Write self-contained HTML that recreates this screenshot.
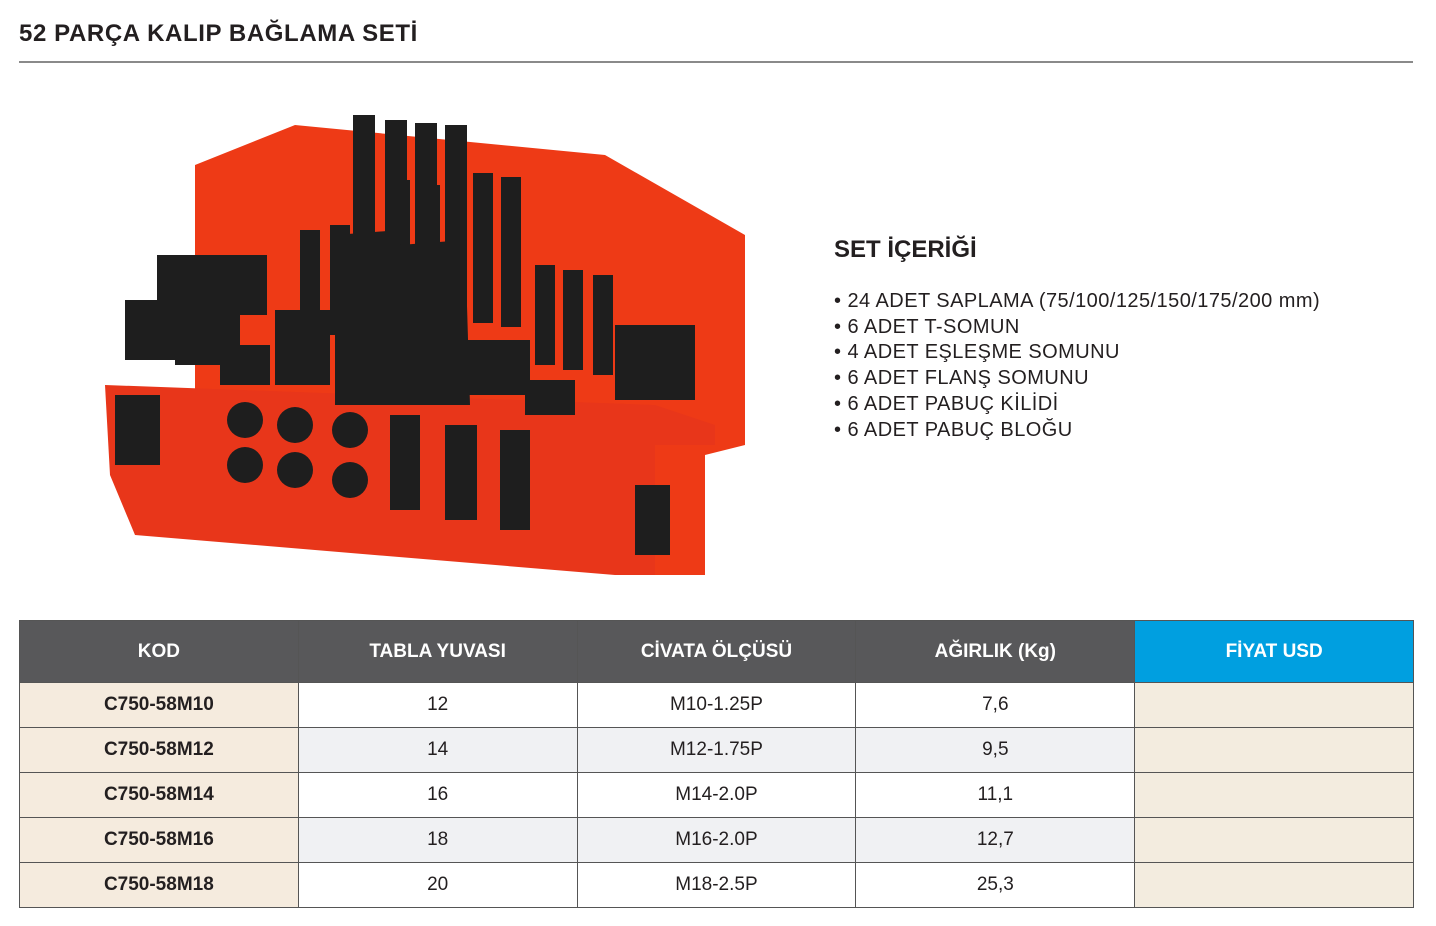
<!DOCTYPE html>
<html><head><meta charset="utf-8"><style>
body{margin:0;width:1436px;height:926px;background:#fff;font-family:"Liberation Sans",sans-serif;position:relative;overflow:hidden;color:#231f20}
.t{position:absolute;left:19px;top:20px;font-size:24px;font-weight:bold;letter-spacing:0.6px}
.hr{position:absolute;left:19px;top:61px;width:1394px;height:2px;background:#8a8a8a}
.h2{position:absolute;left:834px;top:236px;font-size:24px;font-weight:bold}
.ls{position:absolute;left:834px;top:289px;font-size:20px;line-height:25.7px;letter-spacing:0.45px}
table{position:absolute;left:19px;top:620px;border-collapse:collapse;width:1395px}
td,th{border:1.5px solid #555;text-align:center;font-size:19px;padding:0;width:279px}
th{background:#58585a;color:#fff;height:61px;font-weight:bold}
th.b{background:#009fe0}
td{height:44px}
td.k{background:#f5ebde;font-weight:bold}
td.p{background:#f3ecdf}
tr.g td{background:#f0f1f3}
tr.g td.k{background:#f5ebde}
tr.g td.p{background:#f3ecdf}
</style></head><body>
<div class="t">52 PARÇA KALIP BAĞLAMA SETİ</div>
<div class="hr"></div>
<svg style="position:absolute;left:95px;top:105px" width="660" height="475">
<polygon points="100,60 200,20 510,50 650,130 650,340 610,350 610,470 540,470 540,330 300,330 25,300 25,290 100,290" fill="#ee3a16"/>
<polygon points="10,280 560,300 620,320 620,340 560,340 560,470 520,470 40,430 15,370 10,280" fill="#e8361a"/>
<g fill="#1e1e1e">
<rect x="258" y="10" width="22" height="200"/><rect x="290" y="15" width="22" height="195"/><rect x="320" y="18" width="22" height="190"/><rect x="350" y="20" width="22" height="190"/>
<rect x="295" y="75" width="20" height="140"/><rect x="325" y="80" width="20" height="140"/><rect x="378" y="68" width="20" height="150"/><rect x="406" y="72" width="20" height="150"/>
<rect x="205" y="125" width="20" height="100"/><rect x="235" y="120" width="20" height="110"/><rect x="440" y="160" width="20" height="100"/><rect x="468" y="165" width="20" height="100"/><rect x="498" y="170" width="20" height="100"/>
<polygon points="240,130 305,125 310,300 240,300"/><polygon points="305,140 370,135 375,300 305,300"/>
<rect x="62" y="150" width="110" height="60"/><rect x="30" y="195" width="55" height="60"/><rect x="80" y="205" width="65" height="55"/>
<rect x="125" y="240" width="50" height="40"/><rect x="180" y="205" width="55" height="75"/><rect x="370" y="235" width="65" height="55"/><rect x="430" y="275" width="50" height="35"/>
<rect x="520" y="220" width="80" height="75"/>
<rect x="20" y="290" width="45" height="70"/><rect x="540" y="380" width="35" height="70"/>
<circle cx="150" cy="315" r="18"/><circle cx="150" cy="360" r="18"/><circle cx="200" cy="320" r="18"/><circle cx="200" cy="365" r="18"/><circle cx="255" cy="325" r="18"/><circle cx="255" cy="375" r="18"/>
<rect x="295" y="310" width="30" height="95"/><rect x="350" y="320" width="32" height="95"/><rect x="405" y="325" width="30" height="100"/>
</g>
</svg>
<div class="h2">SET İÇERİĞİ</div>
<div class="ls">• 24 ADET SAPLAMA (75/100/125/150/175/200 mm)<br>• 6 ADET T-SOMUN<br>• 4 ADET EŞLEŞME SOMUNU<br>• 6 ADET FLANŞ SOMUNU<br>• 6 ADET PABUÇ KİLİDİ<br>• 6 ADET PABUÇ BLOĞU</div>
<table>
<tr><th>KOD</th><th>TABLA YUVASI</th><th>CİVATA ÖLÇÜSÜ</th><th>AĞIRLIK (Kg)</th><th class="b">FİYAT USD</th></tr>
<tr><td class="k">C750-58M10</td><td>12</td><td>M10-1.25P</td><td>7,6</td><td class="p"></td></tr>
<tr class="g"><td class="k">C750-58M12</td><td>14</td><td>M12-1.75P</td><td>9,5</td><td class="p"></td></tr>
<tr><td class="k">C750-58M14</td><td>16</td><td>M14-2.0P</td><td>11,1</td><td class="p"></td></tr>
<tr class="g"><td class="k">C750-58M16</td><td>18</td><td>M16-2.0P</td><td>12,7</td><td class="p"></td></tr>
<tr><td class="k">C750-58M18</td><td>20</td><td>M18-2.5P</td><td>25,3</td><td class="p"></td></tr>
</table>
</body></html>
